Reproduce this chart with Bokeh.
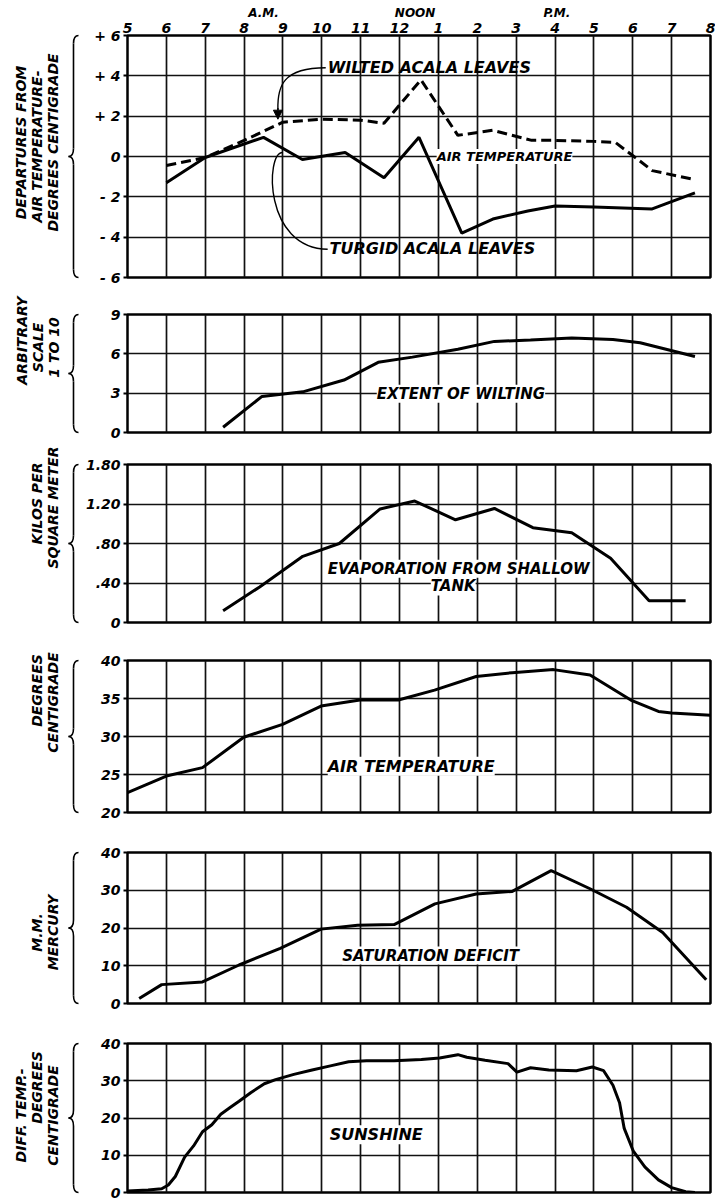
import math
from bokeh.plotting import figure
from bokeh.layouts import column, row
from bokeh.models import Range1d, FixedTicker, LinearAxis, Label, Arrow, NormalHead
from bokeh.core.properties import value
from bokeh.embed import file_html
from bokeh.resources import INLINE

FONT = "DejaVu Sans"

# ---------------- data ----------------
hours = list(range(5, 21))
hour_labels = ["5", "6", "7", "8", "9", "10", "11", "12", "1", "2", "3", "4", "5", "6", "7", "8"]
period_pos = [8.5, 12.4, 16.05]
period_labels = ["A.M.", "NOON", "P.M."]

# Panel 1: departures from air temperature (deg C)
turgid_h = [6.0, 7.0, 8.5, 9.5, 10.6, 11.6, 12.5, 13.6, 14.4, 15.3, 16.0, 17.0, 18.5, 19.6]
turgid_v = [-1.3, -0.05, 0.95, -0.15, 0.2, -1.05, 0.95, -3.8, -3.1, -2.7, -2.45, -2.5, -2.6, -1.8]
wilted_h = [6.0, 7.0, 8.0, 9.0, 10.0, 11.0, 11.6, 12.55, 13.5, 14.4, 15.4, 16.0, 17.0, 17.55, 18.1, 18.5, 19.6]
wilted_v = [-0.45, -0.05, 0.8, 1.7, 1.85, 1.8, 1.65, 3.8, 1.05, 1.3, 0.8, 0.8, 0.75, 0.7, -0.1, -0.7, -1.15]
p1_ticks = [-6, -4, -2, 0, 2, 4, 6]
p1_labels = ["- 6", "- 4", "- 2", "0", "+ 2", "+ 4", "+ 6"]

# Panel 2: extent of wilting (arbitrary scale 1 to 10)
wilt_h = [7.46, 8.46, 9.51, 10.57, 11.45, 12.33, 13.5, 14.44, 15.37, 16.43, 17.49, 18.19, 19.6]
wilt_v = [0.4, 2.75, 3.1, 4.0, 5.35, 5.75, 6.35, 6.95, 7.05, 7.2, 7.1, 6.85, 5.8]
p2_ticks = [0, 3, 6, 9]
p2_labels = ["0", "3", "6", "9"]

# Panel 3: evaporation from shallow tank (kilos per square meter)
evap_h = [7.46, 8.4, 9.51, 10.45, 11.5, 12.39, 13.44, 14.44, 15.43, 16.43, 17.43, 18.42, 19.36]
evap_v = [0.12, 0.36, 0.67, 0.80, 1.15, 1.23, 1.04, 1.155, 0.96, 0.91, 0.65, 0.22, 0.22]
p3_ticks = [0, 0.4, 0.8, 1.2, 1.6]
p3_labels = ["0", ".40", ".80", "1.20", "1.80"]

# Panel 4: air temperature (deg C)
air_h = [5.0, 6.0, 6.93, 7.99, 8.99, 9.98, 10.98, 11.97, 12.9, 13.97, 14.9, 15.96, 16.9, 17.95, 18.66, 19.0, 20.0]
air_v = [22.6, 24.8, 25.9, 29.9, 31.6, 34.0, 34.8, 34.8, 36.1, 37.9, 38.4, 38.8, 38.1, 34.8, 33.3, 33.1, 32.8]
p4_ticks = [20, 25, 30, 35, 40]
p4_labels = ["20", "25", "30", "35", "40"]

# Panel 5: saturation deficit (mm mercury)
sat_h = [5.3, 5.88, 6.93, 7.87, 8.93, 9.98, 10.92, 11.86, 12.91, 13.97, 14.9, 15.9, 16.9, 17.84, 18.77, 19.89]
sat_v = [1.3, 5.0, 5.7, 10.2, 14.6, 19.7, 20.7, 20.9, 26.4, 29.0, 29.7, 35.2, 30.4, 25.5, 18.8, 6.3]
p5_ticks = [0, 10, 20, 30, 40]
p5_labels = ["0", "10", "20", "30", "40"]

# Panel 6: sunshine (diff. temp., deg C)
sun_h = [5.0, 5.53, 5.88, 6.05, 6.23, 6.47, 6.7, 6.93, 7.17, 7.4, 7.64, 7.87, 8.17, 8.52, 8.81, 9.28,
         9.75, 10.22, 10.69, 11.15, 11.86, 12.56, 13.03, 13.5, 13.73, 14.2, 14.79, 15.02, 15.37, 15.84,
         16.55, 16.96, 17.25, 17.49, 17.66, 17.78, 18.01, 18.31, 18.66, 19.0, 19.36, 19.6]
sun_v = [0.4, 0.7, 1.0, 2.0, 4.3, 9.5, 12.5, 16.3, 18.2, 21.0, 22.8, 24.5, 26.8, 29.2, 30.3, 31.7,
         32.9, 34.0, 35.1, 35.4, 35.4, 35.7, 36.1, 37.0, 36.3, 35.5, 34.6, 32.3, 33.5, 32.9,
         32.7, 33.7, 32.7, 28.8, 24.1, 17.2, 11.2, 6.9, 3.4, 1.3, 0.2, 0.0]
p6_ticks = [0, 10, 20, 30, 40]
p6_labels = ["0", "10", "20", "30", "40"]

# ---------------- layout ----------------
TITLE_W = 82
MAIN_W = 715 - TITLE_W
XR = Range1d(5, 20)


def panel(height, btop, bbot, yr, ticks, labels, top_axis=False):
    p = figure(width=MAIN_W, height=height, x_range=XR, y_range=Range1d(*yr),
               output_backend="svg", toolbar_location=None,
               x_axis_location="above" if top_axis else None,
               min_border_left=44, min_border_right=5,
               min_border_top=btop, min_border_bottom=bbot,
               background_fill_color="white", border_fill_color="white")
    p.outline_line_color = "black"
    p.outline_line_width = 2.5
    p.xgrid.ticker = FixedTicker(ticks=hours)
    p.ygrid.ticker = FixedTicker(ticks=ticks)
    for g in (p.xgrid, p.ygrid):
        g.grid_line_color = "#111111"
        g.grid_line_width = 1.7
    ax = p.yaxis[0]
    ax.ticker = FixedTicker(ticks=ticks)
    ax.major_label_overrides = {t: l for t, l in zip(ticks, labels)}
    ax.axis_line_color = None
    ax.major_tick_in = 0
    ax.major_tick_out = 4
    ax.major_tick_line_color = "black"
    ax.major_tick_line_width = 2
    ax.minor_tick_line_color = None
    ax.major_label_standoff = 3
    ax.major_label_text_font = FONT
    ax.major_label_text_font_style = "bold italic"
    ax.major_label_text_font_size = "14px"
    ax.major_label_text_color = "black"
    if top_axis:
        xa = p.xaxis[0]
        xa.ticker = FixedTicker(ticks=hours)
        xa.major_label_overrides = {h: l for h, l in zip(hours, hour_labels)}
        xa.axis_line_color = None
        xa.major_tick_line_color = None
        xa.minor_tick_line_color = None
        xa.major_tick_out = 0
        xa.major_label_standoff = 3
        xa.major_label_text_font = FONT
        xa.major_label_text_font_style = "bold italic"
        xa.major_label_text_font_size = "14px"
        xa.major_label_text_color = "black"
        pa = LinearAxis(ticker=FixedTicker(ticks=period_pos),
                        major_label_overrides={h: l for h, l in zip(period_pos, period_labels)},
                        axis_line_color=None, major_tick_line_color=None, minor_tick_line_color=None,
                        major_tick_out=0, major_label_standoff=0,
                        major_label_text_font=FONT, major_label_text_font_style="bold italic",
                        major_label_text_font_size="12px", major_label_text_color="black")
        p.add_layout(pa, "above")
    return p


def tag(p, x, y, text, size="15px", align="center", bg="white"):
    p.add_layout(Label(x=x, y=y, text=text, text_font=FONT, text_font_style="bold italic",
                       text_font_size=size, text_align=align, text_baseline="middle",
                       text_color="black", background_fill_color=bg))


LW = 3

# Panel 1
p1 = panel(285, 35, 8, (-6, 6), p1_ticks, p1_labels, top_axis=True)
p1.line(wilted_h, wilted_v, line_width=LW, color="black", line_dash="10 5")
p1.line(turgid_h, turgid_v, line_width=LW, color="black")
p1.bezier(x0=[10.1], y0=[4.4], x1=[8.87], y1=[2.3], cx0=[9.0], cy0=[4.4], cx1=[8.85], cy1=[3.5],
          line_color="black", line_width=1.4)
p1.add_layout(Arrow(end=NormalHead(size=9, fill_color="black", line_color="black"),
                    x_start=8.87, y_start=2.4, x_end=8.87, y_end=1.85,
                    line_color="black", line_width=1.4))
p1.bezier(x0=[10.15], y0=[-4.6], x1=[8.99], y1=[0.2], cx0=[8.5], cy0=[-4.55], cx1=[8.55], cy1=[0.2],
          line_color="black", line_width=1.4)
tag(p1, 10.15, 4.4, "WILTED ACALA LEAVES", "16px", "left", None)
tag(p1, 10.2, -4.55, "TURGID ACALA LEAVES", "16px", "left", None)
tag(p1, 14.7, 0.0, "AIR TEMPERATURE", "13px")

# Panel 2
p2 = panel(155, 29, 8, (0, 9), p2_ticks, p2_labels)
p2.line(wilt_h, wilt_v, line_width=LW, color="black")
tag(p2, 13.58, 2.95, "EXTENT OF WILTING", "15px")

# Panel 3
p3 = panel(190, 24, 8, (0, 1.6), p3_ticks, p3_labels)
p3.line(evap_h, evap_v, line_width=LW, color="black")
tag(p3, 13.52, 0.545, "EVAPORATION FROM SHALLOW", "15px")
tag(p3, 13.38, 0.365, "TANK", "15px")

# Panel 4
p4 = panel(190, 30, 8, (20, 40), p4_ticks, p4_labels)
p4.line(air_h, air_v, line_width=LW, color="black")
tag(p4, 12.3, 26.1, "AIR TEMPERATURE", "16px")

# Panel 5
p5 = panel(191, 32, 8, (0, 40), p5_ticks, p5_labels)
p5.line(sat_h, sat_v, line_width=LW, color="black")
tag(p5, 12.8, 12.7, "SATURATION DEFICIT", "15px")

# Panel 6
p6 = panel(190, 32, 9, (0, 40), p6_ticks, p6_labels)
p6.line(sun_h, sun_v, line_width=LW, color="black")
tag(p6, 11.4, 15.5, "SUNSHINE", "16px")

# ---------------- left titles with braces ----------------
TH = 285 + 155 + 190 + 190 + 191 + 190
tf = figure(width=TITLE_W, height=TH, x_range=Range1d(0, TITLE_W), y_range=Range1d(0, TH),
            output_backend="svg", toolbar_location=None, x_axis_location=None, y_axis_location=None,
            min_border=0, outline_line_color=None, background_fill_color="white",
            border_fill_color="white")
tf.xgrid.visible = False
tf.ygrid.visible = False


def Y(py):
    return TH - py


titles = [
    ("DEPARTURES FROM", 20, 142), ("AIR TEMPERATURE-", 36, 146), ("DEGREES CENTIGRADE", 52, 142),
    ("ARBITRARY", 21, 340), ("SCALE", 37, 347), ("1 TO 10", 53, 347),
    ("KILOS PER", 36, 503), ("SQUARE METER", 52, 507),
    ("DEGREES", 36, 690), ("CENTIGRADE", 52, 702),
    ("M.M.", 36, 932), ("MERCURY", 52, 932),
    ("DIFF. TEMP.-", 20, 1115), ("DEGREES", 36, 1087), ("CENTIGRADE", 52, 1115),
]
tf.text(x=[t[1] for t in titles], y=[Y(t[2]) for t in titles], text=[t[0] for t in titles],
        angle=math.pi / 2, text_align="center", text_baseline="middle",
        text_font=value(FONT), text_font_style="bold italic", text_font_size="14px",
        text_color="black")

frames = [(35, 277), (314, 432), (464, 622), (660, 812), (852, 1003), (1043, 1192)]
qx0, qy0, qx1, qy1, qcx, qcy = [], [], [], [], [], []
sx0, sy0, sx1, sy1 = [], [], [], []
xc, w, r = 73, 5, 8
for T, B in frames:
    M = (T + B) / 2
    for (a, b, c) in [((xc + w, T), (xc, T + r), (xc, T)),
                      ((xc, M - r), (xc - w, M), (xc, M)),
                      ((xc - w, M), (xc, M + r), (xc, M)),
                      ((xc, B - r), (xc + w, B), (xc, B))]:
        qx0.append(a[0]); qy0.append(Y(a[1]))
        qx1.append(b[0]); qy1.append(Y(b[1]))
        qcx.append(c[0]); qcy.append(Y(c[1]))
    for (s, e) in [(T + r, M - r), (M + r, B - r)]:
        sx0.append(xc); sy0.append(Y(s)); sx1.append(xc); sy1.append(Y(e))
tf.quadratic(x0=qx0, y0=qy0, x1=qx1, y1=qy1, cx=qcx, cy=qcy, line_color="black", line_width=1.6)
tf.segment(x0=sx0, y0=sy0, x1=sx1, y1=sy1, line_color="black", line_width=1.6)

layout = row(tf, column(p1, p2, p3, p4, p5, p6, spacing=0), spacing=0)
open("out.html", "w").write(file_html(layout, INLINE))
